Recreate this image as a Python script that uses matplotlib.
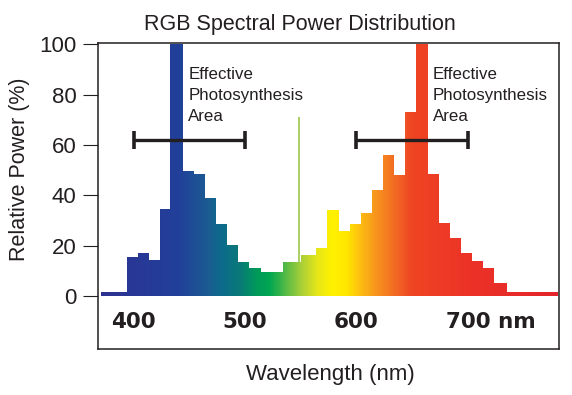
import numpy as np
import matplotlib
matplotlib.use("Agg")
import matplotlib.pyplot as plt
from matplotlib.colors import LinearSegmentedColormap, to_rgb
from matplotlib.transforms import offset_copy

# ---------------- data ----------------
bin_edges_nm = [371, 394, 404, 414, 424, 433, 444, 454, 464, 474, 484, 494, 504, 514,
                534, 550, 564, 574, 584, 594, 604, 614, 624, 634, 644, 654, 664, 674,
                684, 694, 704, 714, 724, 735, 781]
relative_power = [1.5, 15.6, 17, 14.4, 34.5, 100, 49.7, 48.4, 38.9, 28.6, 20.2, 13.6, 11,
                  9.6, 13.6, 16.3, 19.3, 34.3, 25.9, 28.6, 32.9, 42.2, 56, 48, 73.1, 100,
                  48.4, 29, 22.9, 17.1, 14, 11, 5.2, 1.7]
green_line_nm = 548.5
green_line_power = 71
bracket_ranges = [(400, 500), (600, 700)]
bracket_power = 62
annotation_nm = [449, 668.6]
annotation_text = "Effective\nPhotosynthesis\nArea"
x_tick_values = [400, 500, 600, 700]
x_tick_labels = ["400", "500", "600", "700 nm"]
y_tick_values = [0, 20, 40, 60, 80, 100]

# spectrum colour stops (wavelength, colour)
spectrum_nm = [368, 440, 465, 480, 495, 510, 522, 535, 550, 565, 578, 592, 603, 618, 635, 650, 700, 782]
spectrum_col = ["#2e3192", "#21409a", "#1c5a92", "#0c6c8a", "#0a7a78", "#009a5a", "#00a651",
                "#4cb848", "#a6ce39", "#e6e619", "#fff200", "#ffe600", "#fdc010", "#f7941d",
                "#f26b23", "#ef4523", "#ec3327", "#e3242b"]

TXT = "#231f20"
plt.rcParams['font.family'] = ['Liberation Sans', 'DejaVu Sans']

fig = plt.figure(figsize=(5.72, 3.95), dpi=100)
ax = fig.add_axes([98 / 572, 1 - 349.3 / 395, (559 - 98) / 572, (349.3 - 43.3) / 395])
xmin, xmax = 368, 782
ax.set_xlim(xmin, xmax)
ax.set_ylim(-21.1, 100.4)

# green emission line
ax.vlines(green_line_nm, 0, green_line_power, color="#a3cc5a", lw=1.3, zorder=1)

# bars as stairs (used as clip path for gradient)
sp = ax.stairs(relative_power, bin_edges_nm, baseline=0, fill=True,
               facecolor="none", edgecolor="none", zorder=2)

lo, hi = spectrum_nm[0], spectrum_nm[-1]
cmap = LinearSegmentedColormap.from_list(
    "spec", [((w - lo) / (hi - lo), to_rgb(c)) for w, c in zip(spectrum_nm, spectrum_col)])
grad = np.linspace(0, 1, 800).reshape(1, -1)
im = ax.imshow(grad, cmap=cmap, extent=[lo, hi, 0, 100.4], aspect="auto",
               interpolation="bilinear", zorder=2, origin="lower")
im.set_clip_path(sp)

# brackets
for a, b in bracket_ranges:
    ax.errorbar((a + b) / 2, bracket_power, xerr=(b - a) / 2, fmt="none",
                ecolor=TXT, elinewidth=2.4, capsize=6.5, capthick=2.6, zorder=4)

# annotations
for xn in annotation_nm:
    ax.text(xn, 91.0, annotation_text, ha="left", va="top", fontsize=12.2,
            color=TXT, linespacing=1.5, zorder=5)

# x tick labels (inside axes)
for v, lab in zip(x_tick_values, x_tick_labels):
    if lab.endswith("nm"):
        tr = offset_copy(ax.transData, fig=fig, x=-15.5, y=0, units="points")
        ax.text(v, -12.8, lab, ha="left", va="baseline", fontsize=15.5,
                fontweight="bold", family="DejaVu Sans", color=TXT, transform=tr)
    else:
        ax.text(v, -12.8, lab, ha="center", va="baseline", fontsize=15.5,
                fontweight="bold", family="DejaVu Sans", color=TXT)

ax.set_xticks([])
ax.set_yticks(y_tick_values)
ax.set_yticklabels([str(v) for v in y_tick_values], fontsize=16, color=TXT)
ax.tick_params(axis="y", direction="out", length=11, width=0.8, color=TXT, pad=4.5)
for s in ax.spines.values():
    s.set_color(TXT)
    s.set_linewidth(1.1)

fig.text(300 / 572, 1 - 30 / 395, "RGB Spectral Power Distribution", ha="center",
         va="baseline", fontsize=15.5, color=TXT)
fig.text(330 / 572, 1 - 380 / 395, "Wavelength (nm)", ha="center", va="baseline",
         fontsize=16, color=TXT)
fig.text(20 / 572, 1 - 169 / 395, "Relative Power (%)", ha="center", va="center",
         rotation=90, fontsize=15.5, color=TXT)

fig.savefig("out.png", dpi=100)
